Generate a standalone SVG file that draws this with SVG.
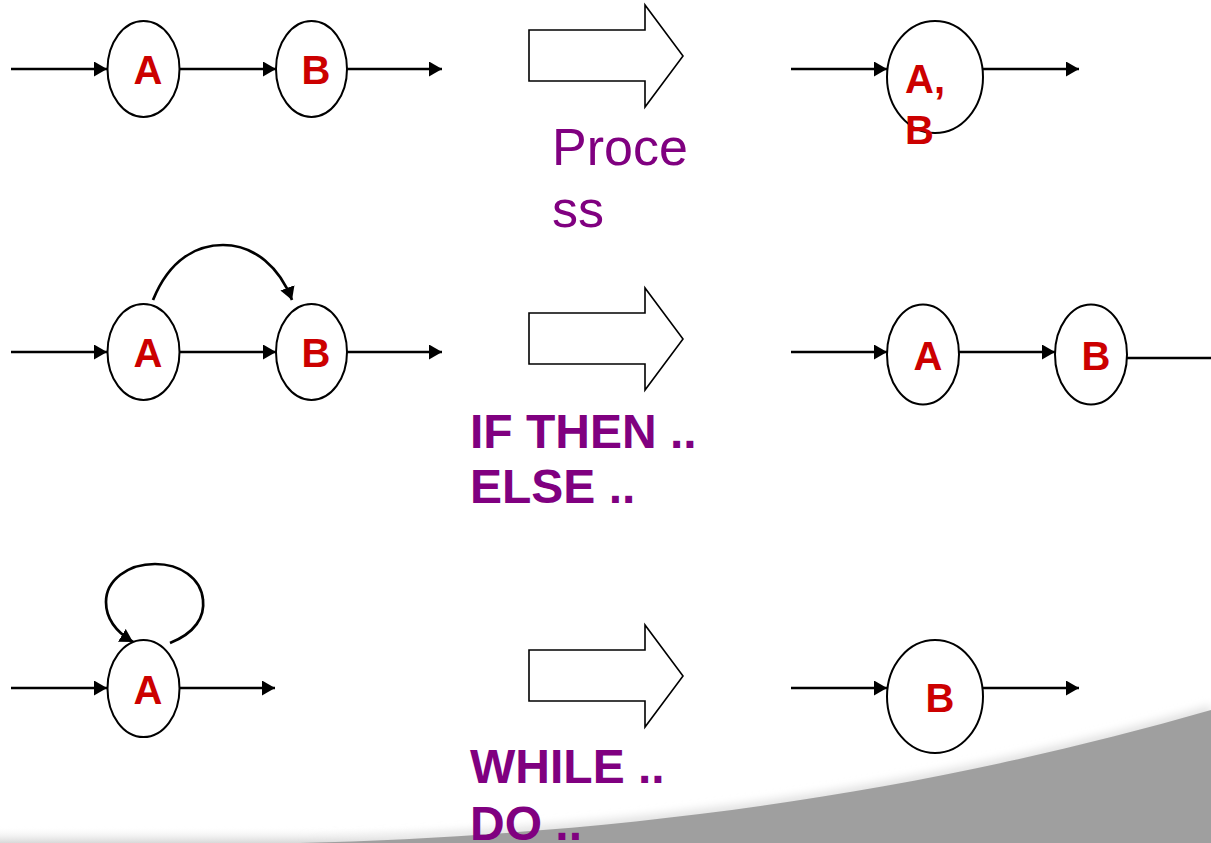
<svg xmlns="http://www.w3.org/2000/svg" width="1211" height="843" viewBox="0 0 1211 843">
<defs>
<style>
.n{fill:#fff;stroke:#000;stroke-width:2}
.c{fill:none;stroke:#000;stroke-width:2.7}
.ca{fill:none;stroke:#000;stroke-width:2.7;marker-end:url(#ah)}
.lbl{font-family:"Liberation Sans",Arial,sans-serif;font-weight:bold;font-size:40px;fill:#cc0000}
.blk{fill:#fff;stroke:#000;stroke-width:1.6}
.pt{font-family:"Liberation Sans",Arial,sans-serif;font-size:52px;fill:#800080}
.pb{font-family:"Liberation Sans",Arial,sans-serif;font-weight:bold;font-size:48px;fill:#800080}
</style>
<marker id="ah" markerUnits="userSpaceOnUse" markerWidth="15" markerHeight="16" refX="13" refY="7.5" orient="auto">
<path d="M0,0 L13,7.5 L0,15 z" fill="#000"/>
</marker>
<filter id="bl" x="-5%" y="-50%" width="110%" height="200%"><feGaussianBlur stdDeviation="4"/></filter>
<linearGradient id="bg" x1="0" y1="0" x2="0" y2="1">
<stop offset="0" stop-color="#fff" stop-opacity="0"/>
<stop offset="1" stop-color="#d8d8d8"/>
</linearGradient>
</defs>
<rect width="1211" height="843" fill="#fff"/>
<g id="background">
<rect x="0" y="826" width="1211" height="17" fill="url(#bg)"/>
<path d="M300,843 C600,835 900,800 1211,710 L1211,843 Z" fill="#e2e2e2" filter="url(#bl)" transform="translate(0,-5)"/>
<path d="M300,843 C600,835 900,800 1211,710 L1211,843 Z" fill="#9f9f9f"/>
</g>
<g id="connectors">
<line class="ca" x1="11" y1="69" x2="107" y2="69"/>
<line class="ca" x1="180" y1="69" x2="276" y2="69"/>
<line class="ca" x1="347" y1="69" x2="442" y2="69"/>
<line class="ca" x1="791" y1="69" x2="887" y2="69"/>
<line class="ca" x1="983" y1="69" x2="1079" y2="69"/>
<line class="ca" x1="11" y1="352" x2="107" y2="352"/>
<line class="ca" x1="180" y1="352" x2="276" y2="352"/>
<line class="ca" x1="347" y1="352" x2="442" y2="352"/>
<path class="ca" d="M153,300 C170,258 198,245 223,245 C255,245 280,268 292,300"/>
<line class="ca" x1="791" y1="352" x2="887" y2="352"/>
<line class="ca" x1="959" y1="352" x2="1055" y2="352"/>
<line class="c" x1="1127" y1="358" x2="1211" y2="358"/>
<line class="ca" x1="11" y1="688" x2="107" y2="688"/>
<line class="ca" x1="180" y1="688" x2="275" y2="688"/>
<path class="ca" d="M170,643 C195,633 205,617 203,600 C201,578 180,564 155,564 C128,564 106,580 106,602 C106,620 118,633 133,642"/>
<line class="ca" x1="791" y1="688" x2="887" y2="688"/>
<line class="ca" x1="983" y1="688" x2="1079" y2="688"/>
</g>
<g id="arrow1"><polygon class="blk" points="529,30 645,30 645,5 683,56 645,107 645,81 529,81"/></g>
<g id="arrow2"><polygon class="blk" points="529,313 645,313 645,288 683,339 645,390 645,364 529,364"/></g>
<g id="arrow3"><polygon class="blk" points="529,650 645,650 645,625 683,676 645,727 645,701 529,701"/></g>
<g id="r1A"><ellipse class="n" cx="143.5" cy="69" rx="36" ry="48"/><text class="lbl" x="148" y="84" text-anchor="middle">A</text></g>
<g id="r1B"><ellipse class="n" cx="311.5" cy="69" rx="35.5" ry="48"/><text class="lbl" x="316" y="84" text-anchor="middle">B</text></g>
<g id="r1AB"><ellipse class="n" cx="935" cy="77" rx="48" ry="56"/><text class="lbl" x="905" y="93">A,</text><text class="lbl" x="905" y="144">B</text></g>
<g id="r2A"><ellipse class="n" cx="143.5" cy="352" rx="36" ry="48"/><text class="lbl" x="148" y="367" text-anchor="middle">A</text></g>
<g id="r2B"><ellipse class="n" cx="311.5" cy="352" rx="35.5" ry="48"/><text class="lbl" x="316" y="367" text-anchor="middle">B</text></g>
<g id="r2A2"><ellipse class="n" cx="923" cy="354.5" rx="36" ry="50"/><text class="lbl" x="928" y="370" text-anchor="middle">A</text></g>
<g id="r2B2"><ellipse class="n" cx="1091" cy="354.5" rx="36" ry="50"/><text class="lbl" x="1096" y="370" text-anchor="middle">B</text></g>
<g id="r3A"><ellipse class="n" cx="143.5" cy="688.5" rx="36" ry="48.5"/><text class="lbl" x="148" y="704" text-anchor="middle">A</text></g>
<g id="r3B"><ellipse class="n" cx="935" cy="696.5" rx="48" ry="56.5"/><text class="lbl" x="940" y="712" text-anchor="middle">B</text></g>
<g id="labels">
<text class="pt" x="552" y="165">Proce</text>
<text class="pt" x="552" y="227">ss</text>
<text class="pb" x="470" y="448">IF THEN ..</text>
<text class="pb" x="470" y="503">ELSE ..</text>
<text class="pb" x="470" y="783">WHILE ..</text>
<text class="pb" x="470" y="840">DO ..</text>
</g>
</svg>
